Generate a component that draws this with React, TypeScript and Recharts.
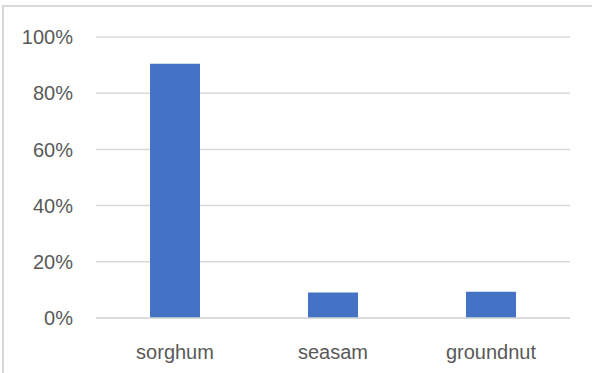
import React from 'react';
import { BarChart, Bar, XAxis, YAxis, CartesianGrid } from 'recharts';

const crops = ['sorghum', 'seasam', 'groundnut'];
const shares = [0.905, 0.091, 0.093];
const yTicks = [0, 0.2, 0.4, 0.6, 0.8, 1];

const data = crops.map((name, i) => ({ name, share: shares[i] }));

const textStyle = { fill: '#595959', fontSize: 20, fontFamily: '"Liberation Sans", Arial, sans-serif' };

const App: React.FC = () => {
  return (
    <div style={{ position: 'absolute', left: 0, top: 0, width: 592, height: 373, background: '#fff', overflow: 'hidden' }}>
      {/* chart area border, only left and top visible in the crop */}
      <div
        style={{
          position: 'absolute',
          left: 2,
          top: 5,
          width: 700,
          height: 500,
          border: '2px solid #d9d9d9',
          boxSizing: 'border-box',
        }}
      />
      <BarChart
        width={592}
        height={373}
        data={data}
        margin={{ top: 37, right: 22, bottom: 25, left: 0 }}
        style={{ position: 'absolute', left: 0, top: 0 }}
      >
        <CartesianGrid vertical={false} stroke="#d9d9d9" strokeWidth={1.5} />
        <XAxis
          dataKey="name"
          height={30}
          axisLine={{ stroke: '#d9d9d9', strokeWidth: 1.5 }}
          tickLine={false}
          tickSize={0}
          tickMargin={27}
          tick={textStyle}
        />
        <YAxis
          width={96}
          domain={[0, 1]}
          ticks={yTicks}
          axisLine={false}
          tickLine={false}
          tickSize={0}
          tickMargin={23}
          tick={textStyle}
          tickFormatter={(v: number) => `${Math.round(v * 100)}%`}
        />
        <Bar dataKey="share" fill="#4472c4" barSize={50} isAnimationActive={false} />
      </BarChart>
    </div>
  );
};

export default App;
